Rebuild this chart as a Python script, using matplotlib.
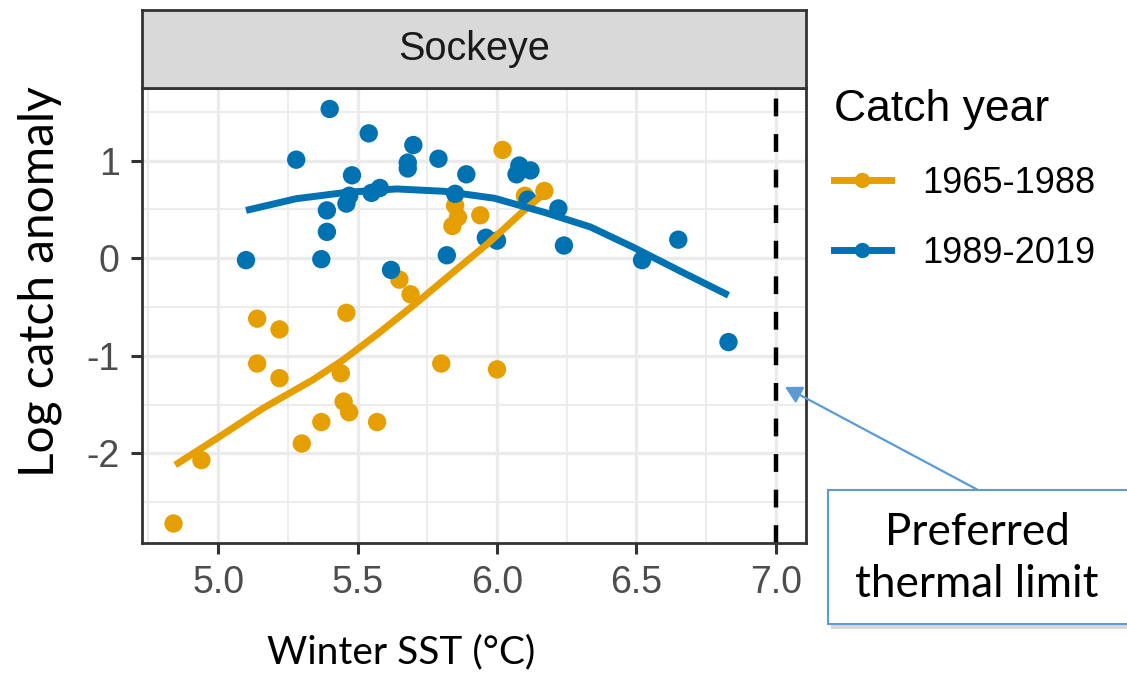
import matplotlib
matplotlib.use("Agg")
import matplotlib.pyplot as plt
from matplotlib.lines import Line2D
from matplotlib.patches import Rectangle, FancyArrowPatch
from matplotlib.ticker import MultipleLocator

# data
early_sst = [6.02, 6.17, 6.10, 5.94, 5.85, 5.86, 5.84, 5.65, 5.69, 5.14, 5.22, 5.46,
             5.14, 5.22, 5.44, 5.45, 5.47, 5.37, 5.30, 5.57, 5.80, 6.00, 4.94, 4.84]
early_anom = [1.11, 0.69, 0.64, 0.44, 0.54, 0.42, 0.33, -0.22, -0.37, -0.62, -0.73, -0.56,
              -1.08, -1.23, -1.18, -1.47, -1.58, -1.68, -1.90, -1.68, -1.08, -1.14, -2.07, -2.72]

late_sst = [5.40, 5.54, 5.28, 5.70, 5.68, 5.68, 5.79, 5.89, 5.48, 5.58, 5.55, 5.47, 5.46,
            5.39, 5.39, 5.37, 5.10, 5.62, 5.82, 5.85, 6.08, 6.12, 6.07, 6.22, 5.96, 6.00,
            6.24, 6.52, 6.65, 6.11, 6.83]
late_anom = [1.53, 1.28, 1.01, 1.16, 0.98, 0.92, 1.02, 0.86, 0.85, 0.72, 0.67, 0.64, 0.56,
             0.49, 0.27, -0.01, -0.02, -0.12, 0.03, 0.66, 0.95, 0.90, 0.86, 0.51, 0.21, 0.18,
             0.13, -0.02, 0.19, 0.60, -0.86]

# smoothed trends
early_fit_x = [4.846, 4.994, 5.16, 5.338, 5.445, 5.575, 5.706, 5.836, 5.967, 6.097, 6.16]
early_fit_y = [-2.12, -1.85, -1.54, -1.25, -1.05, -0.77, -0.47, -0.16, 0.15, 0.49, 0.64]
late_fit_x = [5.10, 5.28, 5.46, 5.64, 5.81, 5.99, 6.17, 6.335, 6.49, 6.655, 6.83]
late_fit_y = [0.49, 0.61, 0.675, 0.71, 0.686, 0.615, 0.47, 0.32, 0.11, -0.13, -0.38]

thermal_limit = 7.0
labels = ["1965-1988", "1989-2019"]
colors = ["#E69F00", "#0072B2"]

W, H = 1127, 674
fig = plt.figure(figsize=(W / 100, H / 100), dpi=100)

def fx(px):
    return px / W

def fy(py):
    return 1 - py / H

ax = fig.add_axes([fx(142), fy(543), fx(806) - fx(142), fy(88) - fy(543)])
strip = fig.add_axes([fx(142), fy(88), fx(806) - fx(142), fy(10) - fy(88)])

ax.set_xlim(4.727, 7.108)
ax.set_ylim(-2.92, 1.745)
ax.xaxis.set_minor_locator(MultipleLocator(0.25))
ax.yaxis.set_minor_locator(MultipleLocator(0.5))
ax.grid(which="major", color="#EBEBEB", lw=2.4, zorder=0)
ax.grid(which="minor", color="#EBEBEB", lw=1.3, zorder=0)
ax.set_axisbelow(True)

for s in ax.spines.values():
    s.set_color("#333333")
    s.set_linewidth(2.0)
    s.set_zorder(6)

ax.set_xticks([5.0, 5.5, 6.0, 6.5, 7.0])
ax.set_xticklabels(["5.0", "5.5", "6.0", "6.5", "7.0"])
ax.set_yticks([1, 0, -1, -2])
ax.set_yticklabels(["1", "0", "-1", "-2"])
ax.tick_params(which="major", length=8, width=2.2, color="#333333", pad=8,
               labelcolor="#4D4D4D", labelsize=27, labelfontfamily="Liberation Sans")
ax.tick_params(which="minor", length=0)

ax.scatter(early_sst, early_anom, s=175, color=colors[0], edgecolor="none", zorder=2)
ax.scatter(late_sst, late_anom, s=175, color=colors[1], edgecolor="none", zorder=2)
ax.plot(early_fit_x, early_fit_y, color=colors[0], lw=5, zorder=3,
        solid_capstyle="butt", solid_joinstyle="round")
ax.plot(late_fit_x, late_fit_y, color=colors[1], lw=5, zorder=4,
        solid_capstyle="butt", solid_joinstyle="round")
ax.axvline(thermal_limit, color="black", lw=3.2, linestyle=(0, (4, 4)), zorder=5)

# facet strip
strip.set_xticks([])
strip.set_yticks([])
strip.set_facecolor("#D9D9D9")
for s in strip.spines.values():
    s.set_color("#333333")
    s.set_linewidth(2.0)
strip.text(0.5, 0.5, "Sockeye", ha="center", va="center", fontsize=28.5,
           color="#1A1A1A", family="Liberation Sans")

# legend
handles = [Line2D([], [], color=c, lw=5, marker="o", markersize=10) for c in colors]
leg = fig.legend(handles, labels, title="Catch year", loc="upper left",
                 bbox_to_anchor=(fx(801), fy(57)), frameon=False,
                 prop={"family": "Liberation Sans", "size": 26},
                 title_fontproperties={"family": "Liberation Sans", "size": 32},
                 handlelength=1.6, handletextpad=0.85, labelspacing=0.97,
                 alignment="left")

# axis titles
fig.text(fx(40), fy(282), "Log catch anomaly", rotation=90, ha="center", va="center",
         fontsize=34.5, family="Lato", color="black")
fig.text(fx(401), fy(663), "Winter SST (°C)", ha="center", va="baseline",
         fontsize=28, family="Lato", color="black")

# callout box
shadow = Rectangle((fx(831), fy(629)), fx(1140) - fx(831), fy(493) - fy(629),
                   transform=fig.transFigure, facecolor="#BFBFBF", edgecolor="none",
                   alpha=0.6, zorder=9)
box = Rectangle((fx(828), fy(624)), fx(1140) - fx(828), fy(490) - fy(624),
                transform=fig.transFigure, facecolor="white", edgecolor="#5B9BD5",
                lw=1.5, zorder=10)
fig.add_artist(shadow)
fig.add_artist(box)
fig.text(fx(977), fy(545), "Preferred", ha="center", va="baseline",
         fontsize=31.7, family="Lato", color="black", zorder=11)
fig.text(fx(977), fy(597), "thermal limit", ha="center", va="baseline",
         fontsize=31.7, family="Lato", color="black", zorder=11)
arrow = FancyArrowPatch((fx(978), fy(490)), (fx(785), fy(387)), transform=fig.transFigure,
                        arrowstyle="-|>,head_length=10,head_width=5.5", color="#5B9BD5",
                        lw=1.6, shrinkA=0, shrinkB=0, zorder=10)
fig.add_artist(arrow)

fig.savefig("out.png", dpi=100)
